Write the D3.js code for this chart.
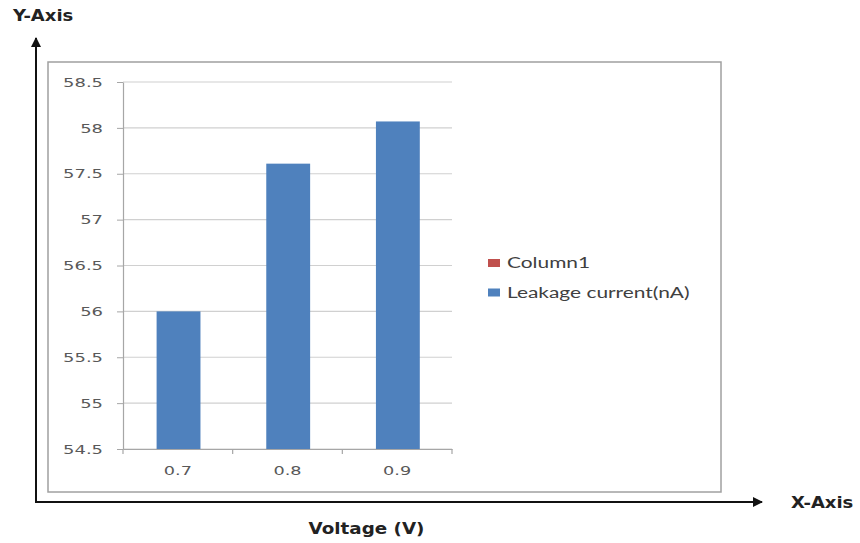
<!DOCTYPE html>
<html><head><meta charset="utf-8">
<script src="https://cdn.jsdelivr.net/npm/d3@7"></script>
<style>body{margin:0;background:#fff}</style>
</head><body>
<svg id="c" width="860" height="543"></svg>
<script>
const categories = ["0.7", "0.8", "0.9"];
const leakage = [56.0, 57.61, 58.07];
const column1 = [null, null, null];
const yTicks = [54.5, 55, 55.5, 56, 56.5, 57, 57.5, 58, 58.5];
const seriesNames = ["Column1", "Leakage current(nA)"];
const seriesColors = ["#c0504d", "#4f81bd"];

const svg = d3.select("#c");
const plot = {left: 123, right: 452, top: 82, bottom: 449};

// horizontally stretch text (reference glyphs are wide)
function stretch(sel, f) {
  sel.each(function() {
    const w = this.getComputedTextLength();
    d3.select(this).attr("textLength", w * f).attr("lengthAdjust", "spacingAndGlyphs");
  });
}

// outer arrows
svg.append("defs").append("marker").attr("id","ah").attr("viewBox","0 0 10 10")
  .attr("refX",9).attr("refY",5).attr("markerWidth",5).attr("markerHeight",5)
  .attr("orient","auto").append("path").attr("d","M0,0L10,5L0,10z").attr("fill","#111");
svg.append("line").attr("x1",36).attr("y1",503).attr("x2",36).attr("y2",38)
  .attr("stroke","#111").attr("stroke-width",2).attr("marker-end","url(#ah)");
svg.append("line").attr("x1",35).attr("y1",502).attr("x2",762).attr("y2",502)
  .attr("stroke","#111").attr("stroke-width",2).attr("marker-end","url(#ah)");

// chart box
svg.append("rect").attr("x",48).attr("y",62).attr("width",673).attr("height",430)
  .attr("fill","#fff").attr("stroke","#a0a0a0").attr("stroke-width",1.5);

const x = d3.scaleBand().domain(categories).range([plot.left, plot.right]).paddingInner(0).paddingOuter(0);
const y = d3.scaleLinear().domain([54.5, 58.5]).range([plot.bottom, plot.top]);

// gridlines
svg.append("g").selectAll("line").data(yTicks).join("line")
  .attr("x1",plot.left).attr("x2",plot.right)
  .attr("y1",d=>y(d)).attr("y2",d=>y(d))
  .attr("stroke","#d0d0d0").attr("stroke-width",1.2);

// y axis
const yAxis = svg.append("g").attr("transform",`translate(${plot.left},0)`)
  .call(d3.axisLeft(y).tickValues(yTicks).tickFormat(d=>String(d)).tickSize(6).tickSizeOuter(0));
yAxis.select(".domain").attr("stroke","#a6a6a6").attr("stroke-width",1.2);
yAxis.selectAll(".tick line").attr("stroke","#a6a6a6");
yAxis.selectAll("text").attr("x",-20).attr("fill","#595959")
  .style("font-family","'DejaVu Sans', Verdana, sans-serif").style("font-size","13px");
stretch(yAxis.selectAll("text"), 1.38);

// x axis
const xAxis = svg.append("g").attr("transform",`translate(0,${plot.bottom})`)
  .call(d3.axisBottom(x).tickSize(0));
xAxis.select(".domain").attr("stroke","#a6a6a6").attr("stroke-width",1.2);
xAxis.selectAll("text").attr("dy","1.75em").attr("fill","#595959")
  .style("font-family","'DejaVu Sans', Verdana, sans-serif").style("font-size","13px");
stretch(xAxis.selectAll("text"), 1.36);
const bounds = categories.map(c=>x(c)).concat([plot.right]);
svg.append("g").selectAll("line").data(bounds).join("line")
  .attr("x1",d=>d).attr("x2",d=>d).attr("y1",plot.bottom).attr("y2",plot.bottom+5)
  .attr("stroke","#a6a6a6").attr("stroke-width",1.2);

// bars
const bw = x.bandwidth()/2.5;
svg.append("g").selectAll("rect").data(leakage).join("rect")
  .attr("x",(d,i)=>x(categories[i]) + x.bandwidth()/2 - bw/2 + 0.7)
  .attr("width",bw)
  .attr("y",d=>y(d)).attr("height",d=>y(54.5)-y(d))
  .attr("fill",seriesColors[1]);

// legend
const lg = svg.append("g");
seriesNames.forEach((n,i)=>{
  const yy = 263 + i*29.5;
  lg.append("rect").attr("x",488).attr("y",yy-4).attr("width",12).attr("height",8).attr("fill",seriesColors[i]);
  const t = lg.append("text").attr("x",507).attr("y",yy+5).text(n).attr("fill","#404040")
    .style("font-family","Lato, 'Open Sans', sans-serif").style("font-size","14.5px");
  stretch(t, 1.44);
});

// labels
const lab = (t,xx,yy,anchor)=>svg.append("text").attr("x",xx).attr("y",yy).attr("text-anchor",anchor).text(t)
  .attr("fill","#222").style("font-family","'DejaVu Sans', Verdana, sans-serif").style("font-weight","bold").style("font-size","15px");
stretch(lab("Y-Axis",13,21,"start"), 1.2);
stretch(lab("X-Axis",791,508,"start"), 1.2);
stretch(lab("Voltage (V)",366.5,534,"middle"), 1.22);
</script>
</body></html>
